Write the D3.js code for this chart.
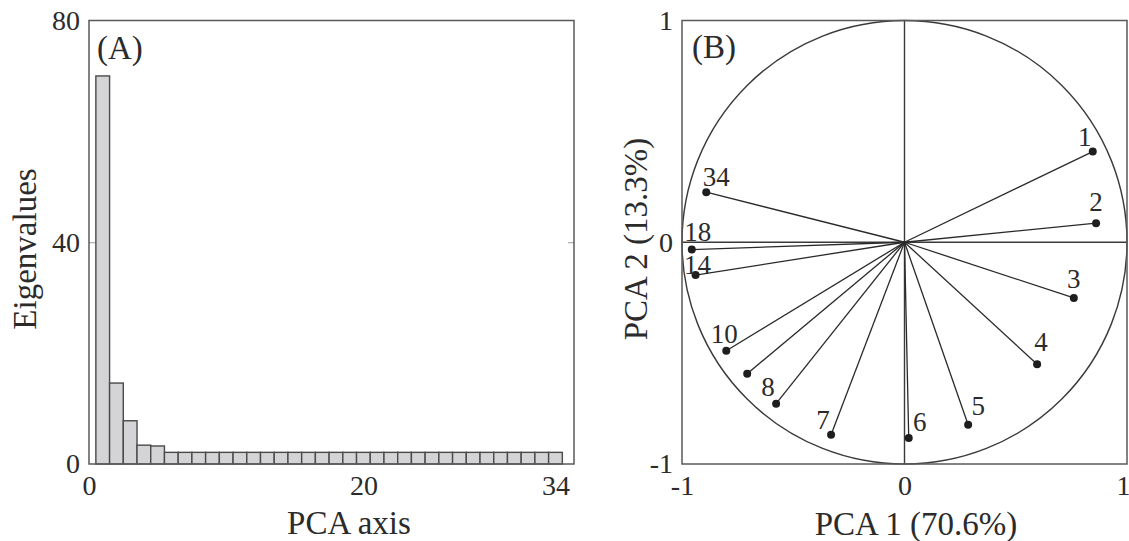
<!DOCTYPE html>
<html>
<head>
<meta charset="utf-8">
<script src="https://cdn.jsdelivr.net/npm/d3@7"></script>
<style>
  body { margin: 0; background: #fff; }
  text { font-family: "Liberation Serif", "DejaVu Serif", serif; fill: #2b2b2b; }
</style>
</head>
<body>
<div id="chart"></div>
<script>
// panel A data: eigenvalue of each PCA axis
var pcaAxis = d3.range(1, 35);
var eigenvalues = [70, 14.6, 7.8, 3.4, 3.25, 2.1, 2.1, 2.1, 2.1, 2.1,
                   2.1, 2.1, 2.1, 2.1, 2.1, 2.1, 2.1, 2.1, 2.1, 2.1,
                   2.1, 2.1, 2.1, 2.1, 2.1, 2.1, 2.1, 2.1, 2.1, 2.1,
                   2.1, 2.1, 2.1, 2.1];
var axisTicksA = [0, 20, 34];
var eigenTicks = [0, 40, 80];

// panel B data: loadings of the variables on PCA 1 and PCA 2
var variables = ["1", "2", "3", "4", "5", "6", "7", "8", "9", "10", "14", "18", "34"];
var pca1 = [0.846, 0.861, 0.761, 0.596, 0.286, 0.019, -0.330, -0.577, -0.707, -0.801, -0.939, -0.956, -0.891];
var pca2 = [0.409, 0.086, -0.251, -0.550, -0.823, -0.883, -0.868, -0.728, -0.593, -0.489, -0.148, -0.033, 0.226];
var showLabel = [true, true, true, true, true, true, true, true, false, true, true, true, true];
var loadTicks = [-1, 0, 1];
var loadTickLabels = ["-1", "0", "1"];

// label nudges in px (dx, dy from the dot)
var labelNudge = [[-8, -6], [0, -12], [0, -10], [4, -13], [10, -10], [11, -7], [-8, -6],
                  [-8, -8], [0, 0], [-2, -8], [2, -1], [6, -9], [10, -6]];

var W = 1129, H = 541;
var frameColor = "#5a5a5a";

var svg = d3.select("#chart")
  .append("svg")
  .attr("width", W)
  .attr("height", H);

// ---------- panel A ----------
var ax = {left: 89, right: 574, top: 20.5, bottom: 464};

var x = d3.scaleLinear()
  .domain([0, 35.35])
  .range([ax.left, ax.right]);

var y = d3.scaleLinear()
  .domain([0, 80])
  .range([ax.bottom, ax.top]);

var gA = svg.append("g");

gA.append("g")
  .selectAll("rect")
  .data(eigenvalues)
  .enter()
  .append("rect")
  .attr("x", function(d, i) { return x(pcaAxis[i] - 0.5); })
  .attr("width", function(d, i) { return x(pcaAxis[i] + 0.5) - x(pcaAxis[i] - 0.5); })
  .attr("y", function(d) { return y(d); })
  .attr("height", function(d) { return y(0) - y(d); })
  .attr("fill", "#d4d4d6")
  .attr("stroke", "#4a4a4a")
  .attr("stroke-width", 1.4);

// inner ticks on both sides
gA.append("g")
  .attr("transform", "translate(" + ax.left + ",0)")
  .call(d3.axisRight(y).tickValues([40]).tickSize(6).tickFormat(""))
  .call(function(g) { g.select(".domain").remove(); })
  .selectAll("line").attr("stroke", "#999");

gA.append("g")
  .attr("transform", "translate(" + ax.right + ",0)")
  .call(d3.axisLeft(y).tickValues([40]).tickSize(6).tickFormat(""))
  .call(function(g) { g.select(".domain").remove(); })
  .selectAll("line").attr("stroke", "#999");

function styleLabels(g) {
  g.select(".domain").remove();
  g.selectAll("text").attr("font-size", 28).attr("fill", "#2b2b2b");
}

// y tick labels
gA.append("g")
  .attr("transform", "translate(" + ax.left + ",0)")
  .call(d3.axisLeft(y).tickValues(eigenTicks).tickSize(0).tickPadding(9))
  .call(styleLabels);

// x tick labels
gA.append("g")
  .attr("transform", "translate(0," + ax.bottom + ")")
  .call(d3.axisBottom(x).tickValues(axisTicksA).tickSize(0).tickPadding(11))
  .call(styleLabels);

gA.append("rect")
  .attr("x", ax.left).attr("y", ax.top)
  .attr("width", ax.right - ax.left).attr("height", ax.bottom - ax.top)
  .attr("fill", "none")
  .attr("stroke", frameColor)
  .attr("stroke-width", 1.5);

gA.append("text")
  .attr("x", 97).attr("y", 59)
  .attr("font-size", 33)
  .text("(A)");

gA.append("text")
  .attr("x", 349).attr("y", 534)
  .attr("text-anchor", "middle")
  .attr("font-size", 33)
  .text("PCA axis");

gA.append("text")
  .attr("transform", "translate(36,249) rotate(-90)")
  .attr("text-anchor", "middle")
  .attr("font-size", 33)
  .text("Eigenvalues");

// ---------- panel B ----------
var bx = {left: 682, right: 1127, top: 20.5, bottom: 464};

var px = d3.scaleLinear()
  .domain([-1, 1])
  .range([bx.left, bx.right]);

var py = d3.scaleLinear()
  .domain([-1, 1])
  .range([bx.bottom, bx.top]);

var gB = svg.append("g");

gB.append("ellipse")
  .attr("cx", px(0)).attr("cy", py(0))
  .attr("rx", px(1) - px(0)).attr("ry", py(0) - py(1))
  .attr("fill", "none")
  .attr("stroke", "#3a3a3a")
  .attr("stroke-width", 1.4);

gB.append("line")
  .attr("x1", px(-1)).attr("x2", px(1))
  .attr("y1", py(0)).attr("y2", py(0))
  .attr("stroke", "#3a3a3a").attr("stroke-width", 1.4);

gB.append("line")
  .attr("x1", px(0)).attr("x2", px(0))
  .attr("y1", py(-1)).attr("y2", py(1))
  .attr("stroke", "#3a3a3a").attr("stroke-width", 1.4);

var loads = variables.map(function(v, i) {
  return {name: v, a: pca1[i], b: pca2[i], show: showLabel[i], nudge: labelNudge[i]};
});

gB.append("g")
  .selectAll("line")
  .data(loads)
  .enter()
  .append("line")
  .attr("x1", px(0)).attr("y1", py(0))
  .attr("x2", function(d) { return px(d.a); })
  .attr("y2", function(d) { return py(d.b); })
  .attr("stroke", "#2a2a2a")
  .attr("stroke-width", 1.3);

gB.append("g")
  .selectAll("circle")
  .data(loads)
  .enter()
  .append("circle")
  .attr("cx", function(d) { return px(d.a); })
  .attr("cy", function(d) { return py(d.b); })
  .attr("r", 4)
  .attr("fill", "#1e1e1e");

gB.append("g")
  .selectAll("text")
  .data(loads.filter(function(d) { return d.show; }))
  .enter()
  .append("text")
  .attr("x", function(d) { return px(d.a) + d.nudge[0]; })
  .attr("y", function(d) { return py(d.b) + d.nudge[1]; })
  .attr("text-anchor", "middle")
  .attr("font-size", 27)
  .text(function(d) { return d.name; });

gB.append("g")
  .attr("transform", "translate(" + bx.left + ",0)")
  .call(d3.axisLeft(py).tickValues(loadTicks).tickSize(0).tickPadding(9)
    .tickFormat(function(d, i) { return loadTickLabels[i]; }))
  .call(styleLabels);

gB.append("g")
  .attr("transform", "translate(0," + bx.bottom + ")")
  .call(d3.axisBottom(px).tickValues(loadTicks).tickSize(0).tickPadding(11)
    .tickFormat(function(d, i) { return loadTickLabels[i]; }))
  .call(styleLabels)
  .call(function(g) {
    // keep the last label inside the page
    g.selectAll("text").filter(function(d) { return d === 1; }).attr("dx", -4);
  });

gB.append("rect")
  .attr("x", bx.left).attr("y", bx.top)
  .attr("width", bx.right - bx.left).attr("height", bx.bottom - bx.top)
  .attr("fill", "none")
  .attr("stroke", frameColor)
  .attr("stroke-width", 1.5);

gB.append("text")
  .attr("x", 692).attr("y", 58)
  .attr("font-size", 33)
  .text("(B)");

gB.append("text")
  .attr("x", 916).attr("y", 535)
  .attr("text-anchor", "middle")
  .attr("font-size", 33)
  .text("PCA 1 (70.6%)");

gB.append("text")
  .attr("transform", "translate(647,239) rotate(-90)")
  .attr("text-anchor", "middle")
  .attr("font-size", 33)
  .text("PCA 2 (13.3%)");
</script>
</body>
</html>
